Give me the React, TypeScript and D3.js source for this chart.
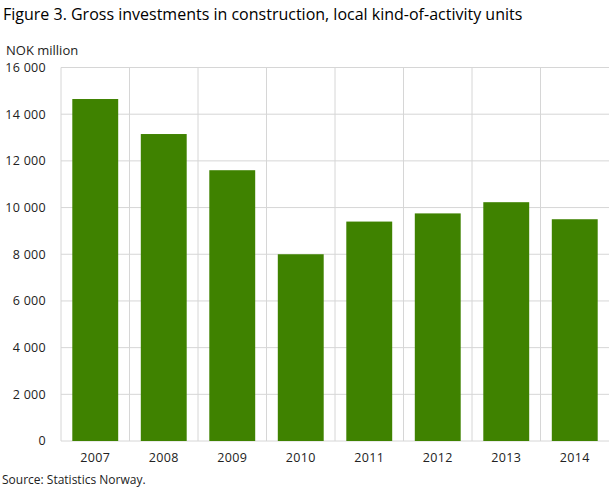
import { useEffect, useRef } from 'react'
import * as d3 from 'd3'

const years = ['2007', '2008', '2009', '2010', '2011', '2012', '2013', '2014']
const investments = [14650, 13150, 11600, 8000, 9400, 9750, 10230, 9500]
const yTicks = [0, 2000, 4000, 6000, 8000, 10000, 12000, 14000, 16000]

const title = 'Figure 3. Gross investments in construction, local kind-of-activity units'
const unitLabel = 'NOK million'
const source = 'Source: Statistics Norway.'

const width = 609
const height = 488

function BarChart() {
  const svgRef = useRef<SVGSVGElement>(null)

  useEffect(() => {
    if (!svgRef.current) return
    const svg = d3.select(svgRef.current)
    svg.selectAll('*').remove()

    const margin = { top: 67.5, right: 0, bottom: 47, left: 61 }
    const innerWidth = width - margin.left - margin.right
    const innerHeight = height - margin.top - margin.bottom
    const font = "'Open Sans', sans-serif"

    const x = d3.scaleBand<string>().domain(years).range([0, innerWidth]).paddingInner(0.33).paddingOuter(0.165)
    const xGrid = d3.scaleBand<string>().domain(years).range([0, innerWidth])
    const y = d3.scaleLinear().domain([0, 16000]).range([innerHeight, 0])

    svg.append('text')
      .attr('x', 3)
      .attr('y', 20)
      .style('font-family', font)
      .style('font-size', '16px')
      .style('fill', '#000')
      .text(title)

    svg.append('text')
      .attr('x', 6)
      .attr('y', 55)
      .style('font-family', font)
      .style('font-size', '13px')
      .style('fill', '#222')
      .text(unitLabel)

    const g = svg.append('g').attr('transform', `translate(${margin.left},${margin.top})`)

    // horizontal grid
    g.selectAll('line.hgrid')
      .data(yTicks)
      .join('line')
      .attr('class', 'hgrid')
      .attr('x1', 0)
      .attr('x2', innerWidth)
      .attr('y1', (d) => y(d))
      .attr('y2', (d) => y(d))
      .attr('stroke', '#d6d6d6')
      .attr('stroke-width', 1)

    // vertical grid at category boundaries
    g.selectAll('line.vgrid')
      .data(years)
      .join('line')
      .attr('class', 'vgrid')
      .attr('x1', (d) => xGrid(d)!)
      .attr('x2', (d) => xGrid(d)!)
      .attr('y1', 0)
      .attr('y2', innerHeight)
      .attr('stroke', '#d6d6d6')
      .attr('stroke-width', 1)

    g.selectAll('rect.bar')
      .data(years)
      .join('rect')
      .attr('class', 'bar')
      .attr('x', (d) => x(d)!)
      .attr('width', x.bandwidth())
      .attr('y', (_, i) => y(investments[i]))
      .attr('height', (_, i) => innerHeight - y(investments[i]))
      .attr('fill', '#3f8200')

    g.selectAll('text.ytick')
      .data(yTicks)
      .join('text')
      .attr('class', 'ytick')
      .attr('x', -15)
      .attr('y', (d) => y(d))
      .attr('dy', '0.35em')
      .attr('text-anchor', 'end')
      .style('font-family', font)
      .style('font-size', '12.5px')
      .style('letter-spacing', '0.3px')
      .style('fill', '#222')
      .text((d) => d3.format(',')(d).replace(/,/g, ' '))

    g.selectAll('text.xtick')
      .data(years)
      .join('text')
      .attr('class', 'xtick')
      .attr('x', (d) => xGrid(d)! + xGrid.bandwidth() / 2)
      .attr('y', innerHeight + 21)
      .attr('text-anchor', 'middle')
      .style('font-family', font)
      .style('font-size', '12.5px')
      .style('letter-spacing', '0.3px')
      .style('fill', '#222')
      .text((d) => d)

    svg.append('text')
      .attr('x', 2)
      .attr('y', 484)
      .style('font-family', font)
      .style('font-size', '12px')
      .style('fill', '#222')
      .text(source)
  }, [])

  return <svg ref={svgRef} width={width} height={height} style={{ position: 'absolute', left: 0, top: 0 }} />
}

export default function App() {
  return <BarChart />
}
